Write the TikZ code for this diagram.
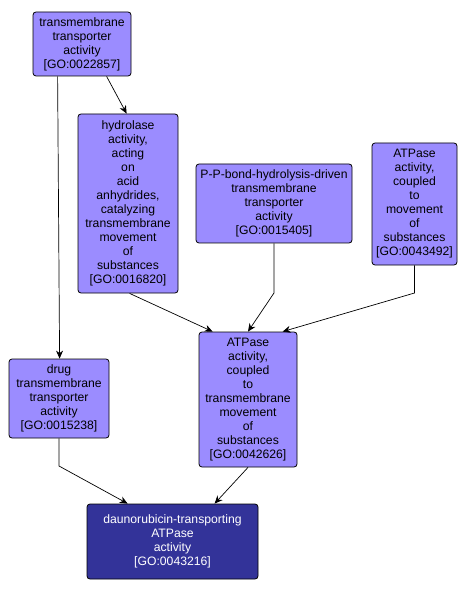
\documentclass[tikz,border=0pt]{standalone}
\usepackage{fontspec}
\setmainfont{Liberation Sans}
\usetikzlibrary{arrows.meta,calc}
\definecolor{golight}{RGB}{155,140,255}
\definecolor{godark}{RGB}{51,51,153}
\begin{document}
\begin{tikzpicture}[x=1pt,y=-1pt,
  goterm/.style={draw=black,line width=0.8pt,rounded corners=3pt,fill=golight,
    align=center,inner sep=0pt,font=\fontsize{12.2}{14}\selectfont},
  gosel/.style={goterm,fill=godark,text=white},
  edge/.style={line width=0.7pt,-{Stealth[length=8pt,width=7pt]}}]
\useasboundingbox (0,0) rectangle (468,593);
\node[goterm,minimum width=98pt,minimum height=64pt] (A) at (82,44)
  {transmembrane\\transporter\\activity\\{[}GO:0022857{]}};
\node[goterm,minimum width=100pt,minimum height=179pt] (B) at (128,203.5)
  {hydrolase\\activity,\\acting\\on\\acid\\anhydrides,\\catalyzing\\transmembrane\\movement\\of\\substances\\{[}GO:0016820{]}};
\node[goterm,minimum width=156pt,minimum height=79pt] (C) at (274,203.5)
  {P-P-bond-hydrolysis-driven\\transmembrane\\transporter\\activity\\{[}GO:0015405{]}};
\node[goterm,minimum width=85pt,minimum height=122pt] (D) at (414.5,204)
  {ATPase\\activity,\\coupled\\to\\movement\\of\\substances\\{[}GO:0043492{]}};
\node[goterm,minimum width=100pt,minimum height=79pt] (E) at (59,398.5)
  {drug\\transmembrane\\transporter\\activity\\{[}GO:0015238{]}};
\node[goterm,minimum width=98pt,minimum height=135pt] (F) at (248,399.5)
  {ATPase\\activity,\\coupled\\to\\transmembrane\\movement\\of\\substances\\{[}GO:0042626{]}};
\node[gosel,minimum width=171pt,minimum height=75pt] (G) at (172.5,541.5)
  {daunorubicin-transporting\\ATPase\\activity\\{[}GO:0043216{]}};
\coordinate (cb) at (274,293);
\coordinate (db) at (414.5,293);
\coordinate (eb) at (59,466);
\draw[edge] ($(A.south west)+(25,0)$) -- ($(E.north west)+(51,0)$);
\draw[edge] ($(A.south west)+(74,0)$) -- ($(B.north west)+(49,0)$);
\draw[edge] ($(B.south west)+(52,0)$) -- ($(F.north west)+(14,0)$);
\draw[edge] (C.south) -- (cb) -- (F.north);
\draw[edge] (D.south) -- (db) -- ($(F.north west)+(84,0)$);
\draw[edge] (E.south) -- (eb) -- ($(G.north west)+(41,0)$);
\draw[edge] (F.south) -- ($(G.north west)+(128,0)$);
\end{tikzpicture}
\end{document}
